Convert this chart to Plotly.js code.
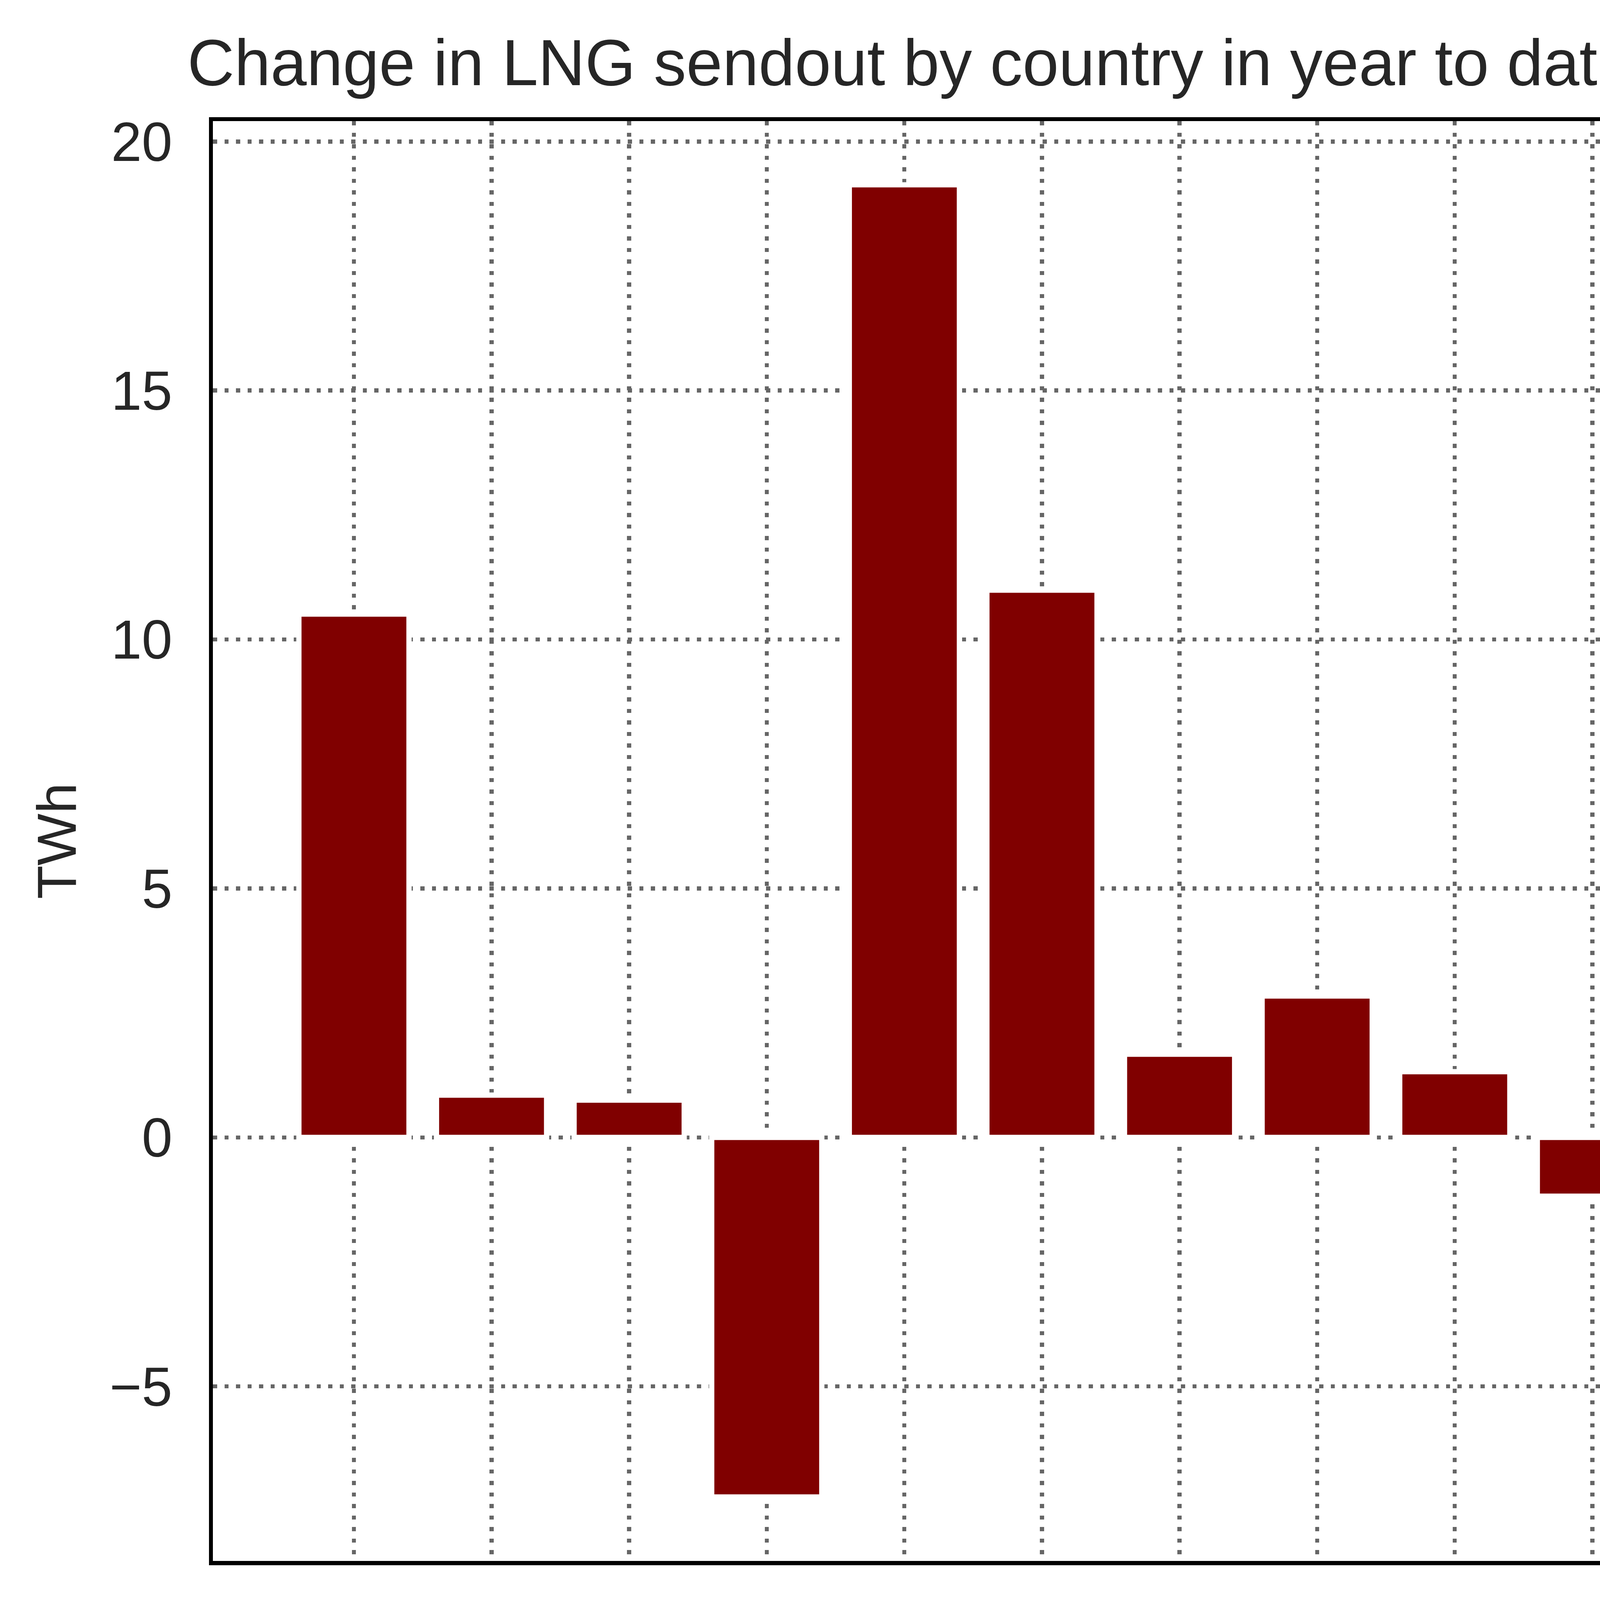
<!DOCTYPE html>
<html>
<head>
<meta charset="utf-8">
<script src="https://cdn.plot.ly/plotly-3.0.1.min.js"></script>
<style>html,body{margin:0;padding:0;background:#fff;}</style>
</head>
<body>
<div id="chart" style="width:5666px;height:4947px;"></div>
<script>
const countries = ["Belgium", "Croatia", "Finland", "France", "Germany", "Italy", "Lithuania", "Netherlands", "Poland", "Portugal", "Spain", "UK", "Greece"];
const changeTWh = [10.51, 0.85, 0.75, -7.22, 19.13, 10.99, 1.67, 2.84, 1.32, -1.18, 2.27, 10.23, 2.17];
const yTickVals = [-5, 0, 5, 10, 15, 20];
const yTickText = ["\u22125", "0", "5", "10", "15", "20"];

const FONT = "Liberation Sans, Arial, Helvetica, sans-serif";
const TXT = "#262626";
const GRID = "#666666";

const trace = {
  type: "bar",
  x: countries,
  y: changeTWh,
  marker: {color: "#800000", line: {width: 13.4, color: "#ffffff"}},
  width: 0.8,
  hoverinfo: "x+y"
};

const layout = {
  width: 5666,
  height: 4947,
  paper_bgcolor: "#ffffff",
  plot_bgcolor: "#ffffff",
  showlegend: false,
  margin: {l: 545, r: 172, t: 310, b: 951, pad: 0},
  font: {family: FONT, color: TXT, size: 141},
  title: {
    text: "Change in LNG sendout by country in year to date compared to 2024",
    font: {family: FONT, size: 166.5, color: TXT},
    xref: "container",
    x: 3025 / 5666,
    xanchor: "center",
    yref: "container",
    y: 1 - 218 / 4947,
    yanchor: "bottom",
    pad: {t: 0, b: 0}
  },
  xaxis: {
    type: "category",
    range: [-1.025, 13.024],
    tickangle: -90,
    tickfont: {family: FONT, size: 141, color: TXT},
    ticks: "",
    ticklabelstandoff: 82,
    showgrid: true,
    gridcolor: GRID,
    gridwidth: 10.5,
    griddash: "10.5px,19px",
    showline: true,
    linecolor: "#000000",
    linewidth: 10.5,
    mirror: true,
    zeroline: false,
    automargin: false
  },
  yaxis: {
    range: [-8.505, 20.41],
    tickvals: yTickVals,
    ticktext: yTickText,
    tickfont: {family: FONT, size: 141, color: TXT},
    ticks: "",
    ticklabelstandoff: 65,
    showgrid: true,
    gridcolor: GRID,
    gridwidth: 10.5,
    griddash: "10.5px,19px",
    showline: true,
    linecolor: "#000000",
    linewidth: 10.5,
    mirror: true,
    zeroline: false,
    automargin: false,
    title: {text: "TWh", font: {family: FONT, size: 141, color: TXT}, standoff: 42}
  },
  bargap: 0.2
};

Plotly.newPlot("chart", [trace], layout, {displayModeBar: false, staticPlot: true});
</script>
</body>
</html>
